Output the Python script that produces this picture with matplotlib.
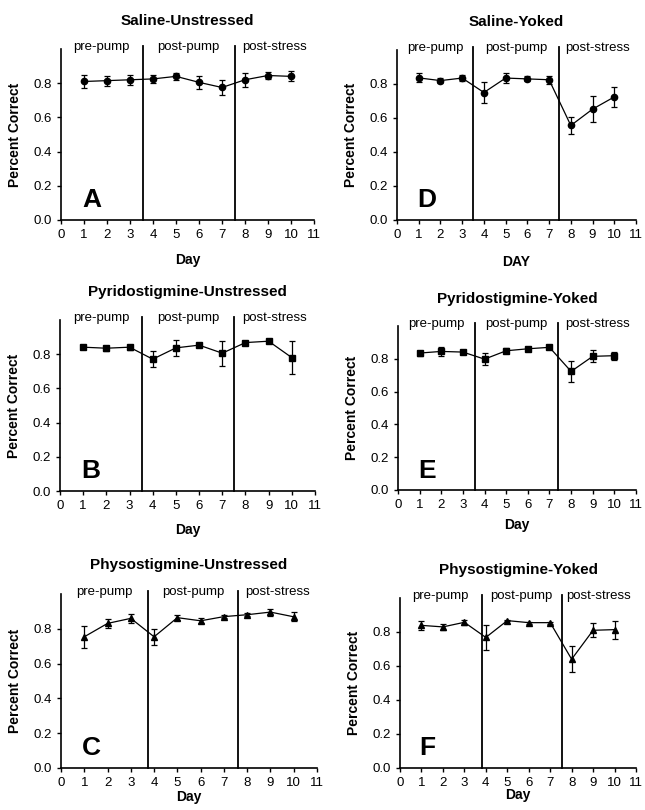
import matplotlib
matplotlib.use("Agg")
import matplotlib.pyplot as plt

plt.rcParams['font.family'] = ['Liberation Sans', 'DejaVu Sans']

days = [1, 2, 3, 4, 5, 6, 7, 8, 9, 10]
phase_names = ["pre-pump", "post-pump", "post-stress"]

titles = ["Saline-Unstressed", "Saline-Yoked",
          "Pyridostigmine-Unstressed", "Pyridostigmine-Yoked",
          "Physostigmine-Unstressed", "Physostigmine-Yoked"]
letters = ["A", "D", "B", "E", "C", "F"]
xlabels = ["Day", "DAY", "Day", "Day", "Day", "Day"]
markers = ["o", "o", "s", "s", "^", "^"]

saline_unstressed = [0.81, 0.815, 0.82, 0.825, 0.84, 0.805, 0.775, 0.82, 0.845, 0.84]
saline_unstressed_err = [0.04, 0.03, 0.03, 0.025, 0.02, 0.04, 0.045, 0.04, 0.02, 0.03]
saline_yoked = [0.836, 0.82, 0.835, 0.75, 0.835, 0.83, 0.825, 0.556, 0.652, 0.724]
saline_yoked_err = [0.026, 0.015, 0.02, 0.06, 0.03, 0.015, 0.025, 0.052, 0.075, 0.06]
pyr_unstressed = [0.841, 0.835, 0.841, 0.771, 0.837, 0.853, 0.806, 0.868, 0.876, 0.78]
pyr_unstressed_err = [0.01, 0.015, 0.015, 0.046, 0.045, 0.01, 0.074, 0.005, 0.005, 0.097]
pyr_yoked = [0.835, 0.845, 0.841, 0.798, 0.849, 0.861, 0.87, 0.723, 0.815, 0.819]
pyr_yoked_err = [0.015, 0.025, 0.01, 0.035, 0.015, 0.008, 0.01, 0.064, 0.037, 0.025]
phy_unstressed = [0.754, 0.831, 0.86, 0.754, 0.864, 0.846, 0.87, 0.881, 0.896, 0.869]
phy_unstressed_err = [0.064, 0.027, 0.026, 0.045, 0.015, 0.015, 0.008, 0.008, 0.02, 0.025]
phy_yoked = [0.839, 0.83, 0.857, 0.768, 0.867, 0.855, 0.855, 0.64, 0.81, 0.814]
phy_yoked_err = [0.025, 0.02, 0.015, 0.074, 0.005, 0.005, 0.005, 0.075, 0.042, 0.053]

series = [saline_unstressed, saline_yoked, pyr_unstressed, pyr_yoked, phy_unstressed, phy_yoked]
errors = [saline_unstressed_err, saline_yoked_err, pyr_unstressed_err, pyr_yoked_err,
          phy_unstressed_err, phy_yoked_err]

# phase boundaries (day units)
boundaries = [(3.55, 7.55), (3.5, 7.45), (3.55, 7.5), (3.55, 7.4), (3.75, 7.6), (3.8, 7.55)]

# axes boxes in pixels: left, right, y of 0.0, y of 1.0
W, H = 645, 810
boxes = [(61, 314, 220, 49), (397, 636, 220, 50),
         (60, 315, 491, 320), (398, 636, 490, 326),
         (61, 317, 768, 594), (400, 636, 768, 598)]
xlabel_pads = [8.5, 10, 8, 5, 0.5, -0.5]

fig = plt.figure(figsize=(W / 100, H / 100), dpi=100)

for i in range(6):
    l, r, y0, y1 = boxes[i]
    ax = fig.add_axes([l / W, 1 - y0 / H, (r - l) / W, (y0 - y1) / H])
    ax.errorbar(days, series[i], yerr=errors[i], color='black', marker=markers[i],
                markersize=4.5, linewidth=0.9, elinewidth=0.9, capsize=2.5, capthick=0.9)
    b1, b2 = boundaries[i]
    for b in (b1, b2):
        ax.plot([b, b], [0, 1.02], color='black', linewidth=1.3, clip_on=False)
    centers = [b1 / 2, (b1 + b2) / 2, (b2 + 11) / 2]
    for cx, name in zip(centers, phase_names):
        ax.text(cx, 1.01, name, ha='center', va='center', fontsize=9.5)

    ax.set_xlim(0, 11)
    ax.set_ylim(0, 1.0)
    ax.set_xticks(range(0, 12))
    ax.set_yticks([0.0, 0.2, 0.4, 0.6, 0.8])
    ax.set_yticklabels(["0.0", "0.2", "0.4", "0.6", "0.8"])
    ax.tick_params(labelsize=9.5, length=3, width=1)
    for side in ("top", "right"):
        ax.spines[side].set_visible(False)
    ax.spines['left'].set_linewidth(1.2)
    ax.spines['bottom'].set_linewidth(1.2)
    ax.set_xlabel(xlabels[i], fontsize=10, fontweight='bold', labelpad=xlabel_pads[i])
    ax.set_ylabel("Percent Correct", fontsize=10, fontweight='bold', labelpad=8)
    ax.text(0.5, 1.165, titles[i], transform=ax.transAxes, ha='center', va='center',
            fontsize=11, fontweight='bold')
    ax.text(0.083, 0.076, letters[i], transform=ax.transAxes, ha='left', va='baseline',
            fontsize=19, fontweight='bold')

fig.savefig("out.png", dpi=100)
